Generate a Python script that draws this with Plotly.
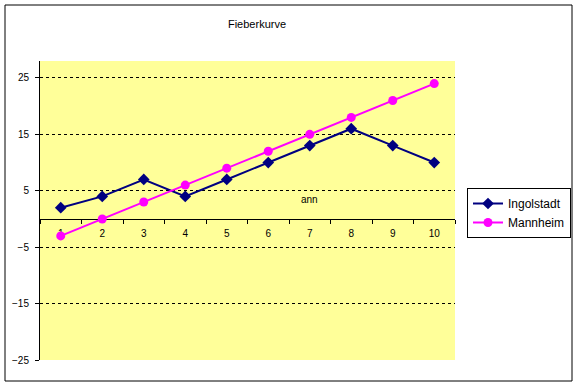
import plotly.graph_objects as go

# ---- data ----
categories = ["1", "2", "3", "4", "5", "6", "7", "8", "9", "10"]
ingolstadt = [2, 4, 7, 4, 7, 10, 13, 16, 13, 10]
mannheim = [-3, 0, 3, 6, 9, 12, 15, 18, 21, 24]
y_ticks = [-25, -15, -5, 5, 15, 25]
grid_ticks = [-15, -5, 5, 15, 25]
title_text = "Fieberkurve"
ann_text = "ann"
ann_category = "7"
ann_y = 3.4

# ---- layout geometry (pixels) ----
W, H = 577, 385
L, R, T, B = 40, 455, 61, 360
pw, ph = R - L, B - T
y_min, y_max = -25, 28

def px_x(p):
    return (p - L) / pw

def px_y(p):
    return (B - p) / ph

font = "Liberation Sans, Arial, sans-serif"

fig = go.Figure()
fig.add_trace(go.Scatter(
    x=categories, y=ingolstadt, name="Ingolstadt", mode="lines+markers",
    line=dict(color="#000080", width=2),
    marker=dict(symbol="diamond", size=9, color="#000080"),
))
fig.add_trace(go.Scatter(
    x=categories, y=mannheim, name="Mannheim", mode="lines+markers",
    line=dict(color="#FF00FF", width=2),
    marker=dict(symbol="circle", size=9, color="#FF00FF"),
))

zero_pos = (0 - y_min) / (y_max - y_min)

fig.update_layout(
    template="none",
    autosize=False,
    width=W, height=H,
    margin=dict(l=L, r=W - R, t=T, b=H - B, pad=0, autoexpand=False),
    paper_bgcolor="white",
    plot_bgcolor="#FFFF99",
    font=dict(family=font, size=10, color="black"),
    title=dict(text=title_text, x=257 / W, xanchor="center",
               y=1 - 24 / H, yanchor="middle",
               font=dict(family=font, size=11, color="black")),
    showlegend=True,
    legend=dict(x=px_x(467), y=px_y(188), xanchor="left", yanchor="top",
                xref="paper", yref="paper",
                bgcolor="white", bordercolor="black", borderwidth=1,
                font=dict(family=font, size=12, color="black"),
                itemwidth=30, tracegroupgap=0),
    xaxis=dict(
        type="category", range=[-0.5, 9.5], automargin=False,
        anchor="free", position=zero_pos,
        showline=True, linecolor="black", linewidth=1,
        ticks="outside", ticklen=4, tickcolor="black", tickson="boundaries",
        ticklabelstandoff=5,
        showgrid=False, zeroline=False,
        tickfont=dict(family=font, size=10, color="black"),
        layer="below traces", fixedrange=True,
    ),
    yaxis=dict(
        range=[y_min, y_max], tickvals=y_ticks, automargin=False,
        showline=True, linecolor="black", linewidth=1,
        ticks="outside", ticklen=4, tickcolor="black",
        ticklabelstandoff=4,
        showgrid=False, zeroline=False,
        tickfont=dict(family=font, size=10, color="black"),
        layer="below traces", fixedrange=True,
    ),
    yaxis2=dict(
        range=[y_min, y_max], tickvals=grid_ticks, overlaying="y", automargin=False,
        showticklabels=False, showgrid=True, gridcolor="black",
        griddash="3px,3px", gridwidth=1, zeroline=False, showline=False,
        layer="below traces", fixedrange=True,
    ),
    annotations=[dict(x=categories.index(ann_category), y=ann_y, xref="x", yref="y",
                      text=ann_text, showarrow=False,
                      font=dict(family=font, size=10, color="black"))],
    shapes=[dict(type="rect", xref="paper", yref="paper",
                 x0=px_x(5), x1=px_x(572), y0=px_y(381), y1=px_y(5),
                 line=dict(color="black", width=1), fillcolor="rgba(0,0,0,0)",
                 layer="above")],
)

# dummy trace to activate yaxis2 grid
fig.add_trace(go.Scatter(x=[categories[0]], y=[None], yaxis="y2", showlegend=False,
                         hoverinfo="skip"))

fig.write_html("out.html", config={"displayModeBar": False, "responsive": False},
               post_script="document.body.style.margin='0px';document.body.style.overflow='hidden';")
